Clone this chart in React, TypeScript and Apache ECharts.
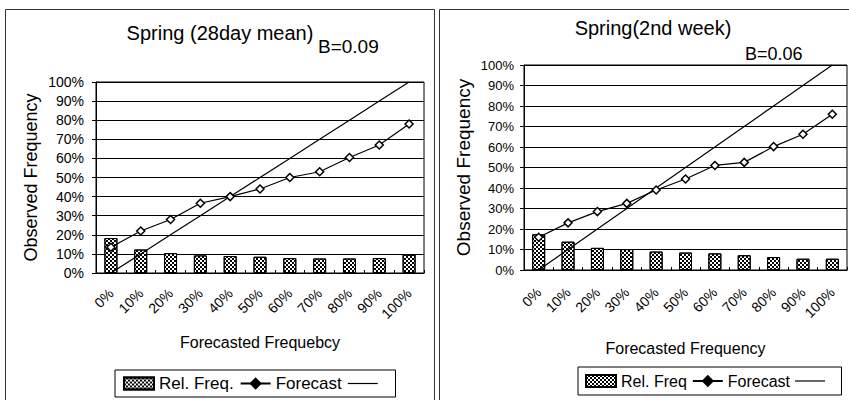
import React, { useEffect, useRef } from "react";
import * as echarts from "echarts";

const categories = ["0%", "10%", "20%", "30%", "40%", "50%", "60%", "70%", "80%", "90%", "100%"];
const leftRelFreq = [18.3, 12.3, 10.4, 9.2, 8.9, 8.5, 7.8, 7.6, 7.6, 7.8, 9.6];
const leftForecast = [13.5, 22, 28, 36.5, 40, 44, 50, 53, 60.5, 67, 78];
const rightRelFreq = [17.4, 13.8, 10.8, 10.2, 9.0, 8.5, 8.1, 7.2, 6.3, 5.5, 5.5];
const rightForecast = [16, 23, 28.5, 32.5, 39, 44.4, 51, 52.5, 60.2, 66.2, 76];
const perfectLine = [0, 10, 20, 30, 40, 50, 60, 70, 80, 90, 100];

const FONT = '"Liberation Sans", Arial, sans-serif';

const decal = {
  symbol: "rect",
  symbolSize: 1,
  dashArrayX: [[2, 2], [0, 2, 2, 0]],
  dashArrayY: [2, 0],
  color: "#000",
  rotation: 0,
};

const LINE_ICON = "path://M0,0h30v1.2h-30z";

function makeText(text: string, x: number, y: number, size: number, align: string) {
  return {
    type: "text",
    x,
    y,
    style: {
      text,
      fontSize: size,
      fontFamily: FONT,
      fill: "#000",
      align,
      verticalAlign: "middle",
      textAlign: align,
      textVerticalAlign: "middle",
    },
  };
}

export default function App() {
  const ref = useRef<HTMLDivElement>(null);
  useEffect(() => {
    if (!ref.current) return;
    const chart = echarts.init(ref.current, null, { renderer: "svg" });

    const yAxisBase = (gridIndex: number, name: string, gap: number, nameSize: number, labelSize: number, margin: number) => ({
      type: "value",
      gridIndex,
      min: 0,
      max: 100,
      interval: 10,
      name,
      nameLocation: "middle",
      nameGap: gap,
      nameRotate: 90,
      nameTextStyle: { fontSize: nameSize, fontFamily: FONT, color: "#000" },
      axisLine: { show: true, lineStyle: { color: "#000", width: 1 } },
      axisTick: { show: true, length: 4, lineStyle: { color: "#000" } },
      axisLabel: { formatter: "{value}%", fontSize: labelSize, fontFamily: FONT, color: "#000", margin },
      splitLine: { show: true, lineStyle: { color: "#000", width: 1 } },
    });

    const xAxisBase = (gridIndex: number, name: string, gap: number, margin: number) => ({
      type: "category",
      gridIndex,
      data: categories,
      boundaryGap: true,
      name,
      nameLocation: "middle",
      nameGap: gap,
      nameTextStyle: { fontSize: 16, fontFamily: FONT, color: "#000" },
      axisLine: { show: true, lineStyle: { color: "#000", width: 1 } },
      axisTick: { show: true, inside: true, length: 3, alignWithLabel: false, lineStyle: { color: "#000" } },
      axisLabel: { rotate: 45, interval: 0, fontSize: 14, fontFamily: FONT, color: "#000", margin },
      splitLine: { show: false },
    });

    const barSeries = (name: string, idx: number, data: number[]) => ({
      name,
      type: "bar",
      xAxisIndex: idx,
      yAxisIndex: idx,
      data,
      barWidth: 13,
      itemStyle: { color: "#fff", borderColor: "#000", borderWidth: 1, decal },
      z: 2,
    });

    const forecastSeries = (idx: number, data: number[]) => ({
      name: "Forecast",
      type: "line",
      xAxisIndex: idx,
      yAxisIndex: idx,
      data,
      symbol: "diamond",
      symbolSize: 8,
      lineStyle: { color: "#000", width: 1.2 },
      itemStyle: { color: "#fff", borderColor: "#000", borderWidth: 1.5 },
      z: 4,
    });

    const perfectSeries = (idx: number) => ({
      name: " ",
      type: "line",
      xAxisIndex: idx,
      yAxisIndex: idx,
      data: perfectLine,
      symbol: "none",
      showSymbol: false,
      lineStyle: { color: "#000", width: 1.2 },
      itemStyle: { color: "#000" },
      z: 3,
    });

    const legendData = (relName: string) => [
      { name: relName, icon: "rect" },
      { name: "Forecast", itemStyle: { color: "#000", borderColor: "#000" } },
      { name: " ", icon: LINE_ICON, itemStyle: { color: "#000", borderWidth: 0 } },
    ];

    chart.setOption({
      animation: false,
      backgroundColor: "#fff",
      grid: [
        { left: 96, top: 82, width: 328, height: 191, show: true, borderColor: "#000", borderWidth: 1, backgroundColor: "transparent" },
        { left: 524, top: 65, width: 323, height: 205, show: true, borderColor: "#000", borderWidth: 1, backgroundColor: "transparent" },
      ],
      xAxis: [xAxisBase(0, "Forecasted Frequebcy", 61, 18), xAxisBase(1, "Forecasted Frequency", 70, 20)],
      yAxis: [
        yAxisBase(0, "Observed Frequency", 56, 18, 14, 12),
        yAxisBase(1, "Observed Frequency", 51, 19, 13, 10),
      ],
      legend: [
        {
          left: 115,
          top: 370,
          padding: [5, 8],
          itemGap: 6,
          itemWidth: 30,
          itemHeight: 12,
          borderColor: "#000",
          borderWidth: 1,
          textStyle: { fontSize: 17, fontFamily: FONT, color: "#000" },
          data: legendData("Rel. Freq."),
          selectedMode: false,
        },
        {
          left: 578,
          top: 367,
          padding: [6, 7],
          itemGap: 5,
          itemWidth: 30,
          itemHeight: 12,
          borderColor: "#000",
          borderWidth: 1,
          textStyle: { fontSize: 16, fontFamily: FONT, color: "#000" },
          data: legendData("Rel. Freq"),
          selectedMode: false,
        },
      ],
      graphic: [
        {
          type: "rect",
          shape: { x: 5.5, y: 9.5, width: 429, height: 400 },
          style: { fill: "none", stroke: "#333", lineWidth: 1 },
          silent: true,
        },
        {
          type: "rect",
          shape: { x: 439.5, y: 9.5, width: 420, height: 400 },
          style: { fill: "none", stroke: "#333", lineWidth: 1 },
          silent: true,
        },
        makeText("Spring (28day mean)", 220, 33, 20, "center"),
        makeText("B=0.09", 318, 46, 19, "left"),
        makeText("Spring(2nd week)", 653, 28, 20, "center"),
        makeText("B=0.06", 745, 54, 18, "left"),
      ],
      series: [
        barSeries("Rel. Freq.", 0, leftRelFreq),
        forecastSeries(0, leftForecast),
        perfectSeries(0),
        barSeries("Rel. Freq", 1, rightRelFreq),
        forecastSeries(1, rightForecast),
        perfectSeries(1),
      ],
    });
    return () => chart.dispose();
  }, []);
  return <div ref={ref} style={{ position: "absolute", left: 0, top: 0, width: 849, height: 400 }} />;
}
